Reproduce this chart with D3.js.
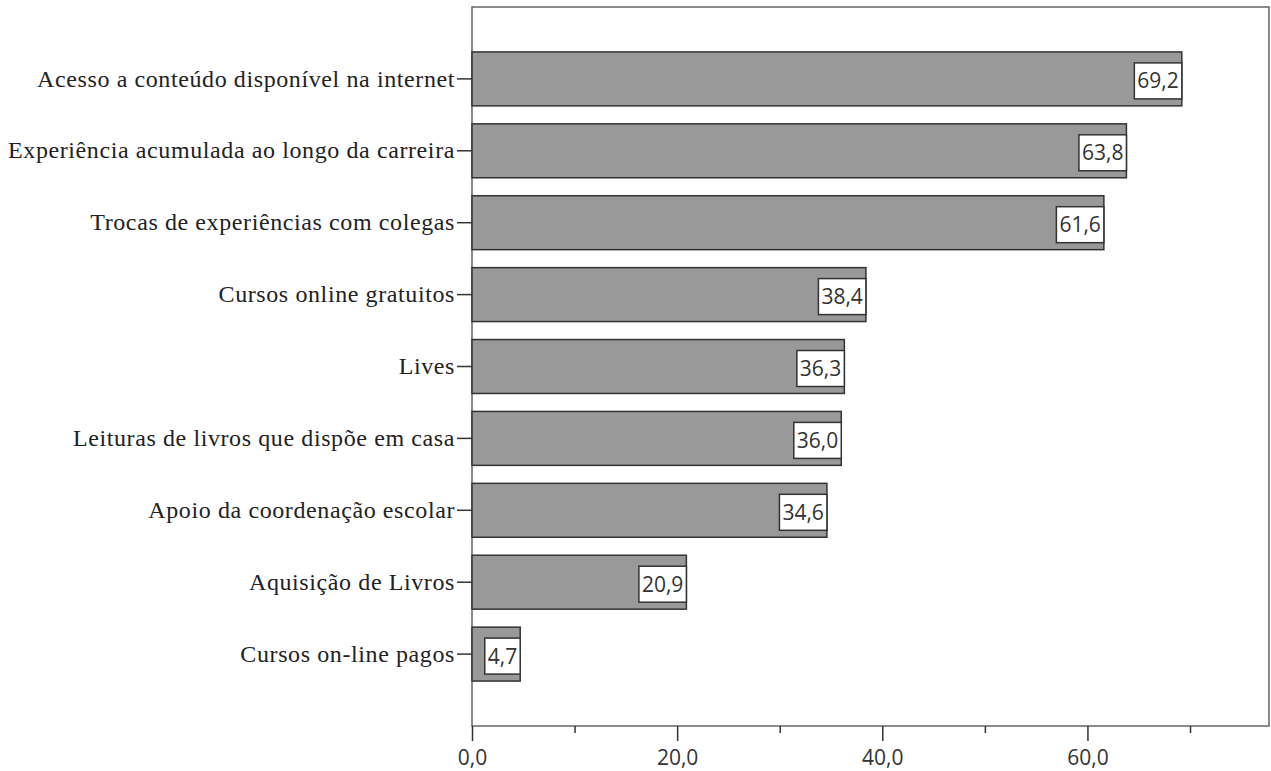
<!DOCTYPE html>
<html>
<head>
<meta charset="utf-8">
<script src="https://d3js.org/d3.v7.min.js"></script>
<style>
  body { margin: 0; background: #fff; }
</style>
</head>
<body>
<script>
// data
var categories = [
  "Acesso a conteúdo disponível na internet",
  "Experiência acumulada ao longo da carreira",
  "Trocas de experiências com colegas",
  "Cursos online gratuitos",
  "Lives",
  "Leituras de livros que dispõe em casa",
  "Apoio da coordenação escolar",
  "Aquisição de Livros",
  "Cursos on-line pagos"
];
var values = [69.2, 63.8, 61.6, 38.4, 36.3, 36.0, 34.6, 20.9, 4.7];
var xTicks = [0, 20, 40, 60];
var xMinorTicks = [10, 30, 50, 70];

var W = 1271, H = 771;
var plotLeft = 472, plotRight = 1269, plotTop = 7, plotBottom = 726;

var fmt = function(v) { return d3.format(".1f")(v).replace(".", ","); };

var svg = d3.select("body").append("svg")
  .attr("width", W).attr("height", H);

var x = d3.scaleLinear().domain([0, 77.7]).range([plotLeft, plotRight]);
var y = d3.scaleBand().domain(categories).range([plotTop, plotBottom])
  .paddingInner(0.25).paddingOuter(0.625);

// frame
svg.append("rect")
  .attr("x", plotLeft).attr("y", plotTop)
  .attr("width", plotRight - plotLeft).attr("height", plotBottom - plotTop)
  .attr("fill", "none").attr("stroke", "#666").attr("stroke-width", 1.5);

// bars
svg.selectAll("rect.bar").data(values).enter().append("rect")
  .attr("class", "bar")
  .attr("x", x(0))
  .attr("y", function(d, i) { return y(categories[i]); })
  .attr("width", function(d) { return x(d) - x(0); })
  .attr("height", y.bandwidth())
  .attr("fill", "#999999")
  .attr("stroke", "#333")
  .attr("stroke-width", 1.5);

// value labels with boxes
var lab = svg.selectAll("g.lab").data(values).enter().append("g").attr("class", "lab");
lab.each(function(d, i) {
  var g = d3.select(this);
  var cy = y(categories[i]) + y.bandwidth() / 2 + 2;
  var t = g.append("text")
    .attr("x", x(d) - 3)
    .attr("y", cy)
    .attr("dy", "0.36em")
    .attr("text-anchor", "end")
    .attr("font-family", "'Open Sans', sans-serif")
    .attr("font-size", 21)
    .attr("fill", "#333")
    .text(fmt(d));
  var bb = t.node().getBBox();
  g.insert("rect", "text")
    .attr("x", x(d) - bb.width - 6)
    .attr("y", cy - 18)
    .attr("width", bb.width + 6)
    .attr("height", 36)
    .attr("fill", "#fff")
    .attr("stroke", "#333")
    .attr("stroke-width", 1.5);
});

// y axis
var yAxis = svg.append("g")
  .attr("transform", "translate(" + plotLeft + ",0)")
  .call(d3.axisLeft(y).tickSize(15).tickPadding(2));
yAxis.select(".domain").remove();
yAxis.selectAll(".tick line").attr("stroke", "#333").attr("stroke-width", 1.5);
yAxis.selectAll(".tick text")
  .attr("font-family", "'Liberation Serif', serif")
  .attr("font-size", 24)
  .attr("letter-spacing", 0.6)
  .attr("fill", "#222");

// x axis
var xAxis = svg.append("g")
  .attr("transform", "translate(0," + plotBottom + ")")
  .call(d3.axisBottom(x).tickValues(xTicks).tickSize(15).tickPadding(9).tickFormat(fmt));
xAxis.select(".domain").remove();
xAxis.selectAll(".tick line").attr("stroke", "#333").attr("stroke-width", 1.5);
xAxis.selectAll(".tick text")
  .attr("font-family", "'Open Sans', sans-serif")
  .attr("font-size", 21)
  .attr("fill", "#333");

svg.append("g")
  .attr("transform", "translate(0," + plotBottom + ")")
  .call(d3.axisBottom(x).tickValues(xMinorTicks).tickSize(7).tickFormat(""))
  .call(function(g) { g.select(".domain").remove(); })
  .selectAll(".tick line").attr("stroke", "#333").attr("stroke-width", 1.5);
</script>
</body>
</html>
